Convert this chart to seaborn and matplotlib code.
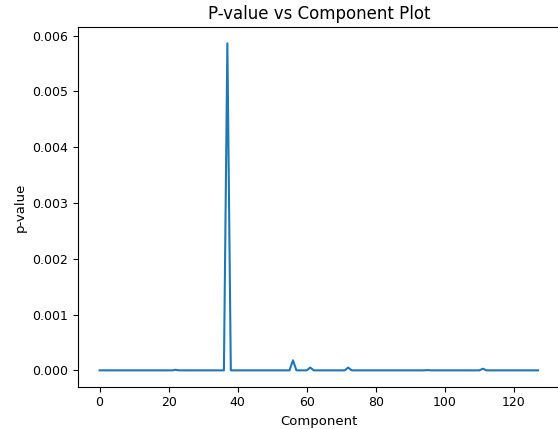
import matplotlib
matplotlib.use("Agg")
import matplotlib.pyplot as plt
import numpy as np
import pandas as pd
import seaborn as sns

# p-value for each of the 128 components
p_values = [
    0, 0, 0, 0, 0, 0, 0, 0, 0, 0, 0, 0, 0, 0, 0, 0,
    0, 0, 0, 0, 0, 0, 0.00001, 0, 0, 0, 0, 0, 0, 0, 0, 0,
    0, 0, 0, 0, 0, 0.00586, 0, 0, 0, 0, 0, 0, 0, 0, 0, 0,
    0, 0, 0, 0, 0, 0, 0, 0, 0.00018, 0, 0, 0, 0, 0.00005, 0, 0,
    0, 0, 0, 0, 0, 0, 0, 0, 0.00005, 0, 0, 0, 0, 0, 0, 0,
    0, 0, 0, 0, 0, 0, 0, 0, 0, 0, 0, 0, 0, 0, 0, 0.000005,
    0, 0, 0, 0, 0, 0, 0, 0, 0, 0, 0, 0, 0, 0, 0, 0.00003,
    0, 0, 0, 0, 0, 0, 0, 0, 0, 0, 0, 0, 0, 0, 0, 0,
]
components = list(range(len(p_values)))

df = pd.DataFrame({"Component": components, "p-value": p_values})

fig = plt.figure(figsize=(5.58, 4.29), dpi=100)
ax = fig.add_axes([77.7 / 558, 1 - 386.7 / 429, (560 - 77.7) / 558, (386.7 - 27) / 429])

sns.lineplot(data=df, x="Component", y="p-value", ax=ax, color="#1f77b4", linewidth=1.5)
ax.spines["right"].set_visible(False)

ax.set_title("P-value vs Component Plot", fontsize=12)
ax.set_xlabel("Component", fontsize=9.5)
ax.set_ylabel("p-value", fontsize=9.5)
ax.tick_params(labelsize=9)

fig.savefig("out.png", dpi=100)
